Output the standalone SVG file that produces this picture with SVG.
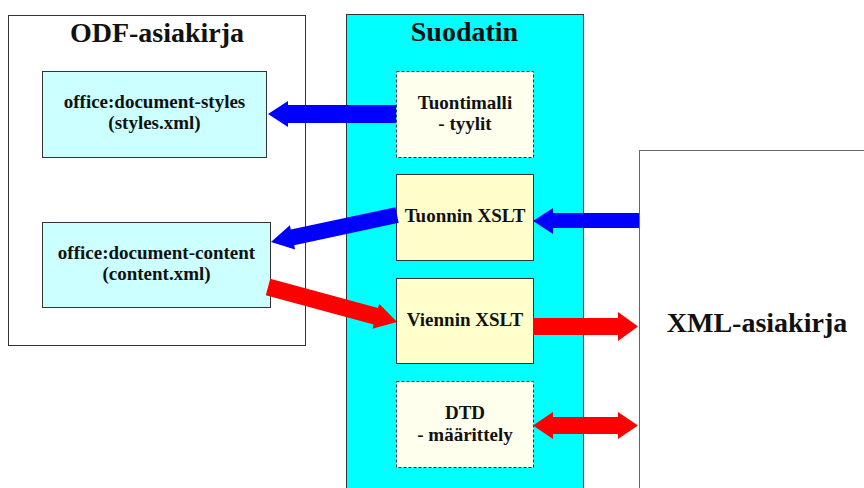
<svg xmlns="http://www.w3.org/2000/svg" width="864" height="488" viewBox="0 0 864 488">
<style>
text{font-family:'Liberation Serif','DejaVu Serif','Times New Roman',serif;font-weight:700;fill:#111;text-anchor:middle}
.title{font-size:28px}
.lbl{font-size:19px}
.doc{fill:#ccffff;stroke:#333;stroke-width:1}
.xslt{fill:#ffffcc;stroke:#333;stroke-width:1}
.dash{fill:#ffffee;stroke:#333;stroke-width:1;stroke-dasharray:3 2}
.blue{fill:#0000ff}
.red{fill:#ff0000}
</style>
<rect width="864" height="488" fill="#ffffff"/>
<g font-family="Liberation Serif, DejaVu Serif, serif">
<g id="odf">
<rect x="8.5" y="15.5" width="297" height="330" fill="#ffffff" stroke="#333"/>
<text class="title" x="157" y="42" font-family="Liberation Serif, serif">ODF-asiakirja</text>
</g>
<g id="suodatin">
<rect x="346.5" y="14.5" width="237" height="480" fill="#00ffff" stroke="#333"/>
<text class="title" x="464.5" y="41" font-family="Liberation Serif, serif">Suodatin</text>
</g>
<g id="xml">
<rect x="639.5" y="150.5" width="240" height="350" fill="#ffffff" stroke="#666"/>
<text class="title" x="757" y="332" font-family="Liberation Serif, serif">XML-asiakirja</text>
</g>
<g id="styles">
<rect class="doc" x="42.5" y="71.5" width="224" height="86"/>
<text class="lbl" x="154.5" y="108" font-family="Liberation Serif, serif">office:document-styles</text>
<text class="lbl" x="154.5" y="129" font-family="Liberation Serif, serif">(styles.xml)</text>
</g>
<g id="content">
<rect class="doc" x="42.5" y="222.5" width="228" height="85"/>
<text class="lbl" x="156.5" y="259" font-family="Liberation Serif, serif">office:document-content</text>
<text class="lbl" x="156.5" y="280" font-family="Liberation Serif, serif">(content.xml)</text>
</g>
<g id="tuontimalli">
<rect class="dash" x="396.5" y="71.5" width="137" height="86"/>
<text class="lbl" x="465" y="109" font-family="Liberation Serif, serif">Tuontimalli</text>
<text class="lbl" x="465" y="130" font-family="Liberation Serif, serif">- tyylit</text>
</g>
<g id="tuonnin">
<rect class="xslt" x="396.5" y="174.5" width="137" height="86"/>
<text class="lbl" x="465" y="222" font-family="Liberation Serif, serif">Tuonnin XSLT</text>
</g>
<g id="viennin">
<rect class="xslt" x="396.5" y="278.5" width="137" height="85"/>
<text class="lbl" x="465" y="326" font-family="Liberation Serif, serif">Viennin XSLT</text>
</g>
<g id="dtd">
<rect class="dash" x="396.5" y="381.5" width="137" height="86"/>
<text class="lbl" x="465" y="419" font-family="Liberation Serif, serif">DTD</text>
<text class="lbl" x="465" y="441" font-family="Liberation Serif, serif">- määrittely</text>
</g>
</g>
<g id="connectors">
<polygon class="blue" points="396,105 288,105 288,101 268,114 288,127 288,123 396,123"/>
<polygon class="blue" points="395.3,207.2 290.8,229.6 289.9,225.2 271,242 295.1,249.6 294.2,245.2 398.7,222.8"/>
<polygon class="blue" points="639,213 553,213 553,208 533,221 553,234 553,228 639,228"/>
<polygon class="red" points="270.2,278.8 378,308 379.2,303.7 397,322 372.4,328.7 373.6,324.4 265.8,295.2"/>
<polygon class="red" points="533,318 618,318 618,312 638,326.5 618,341 618,335 533,335"/>
<polygon class="red" points="533,425.5 553,412 553,417 618,417 618,412 638,425.5 618,439 618,434 553,434 553,439"/>
</g>
</svg>
